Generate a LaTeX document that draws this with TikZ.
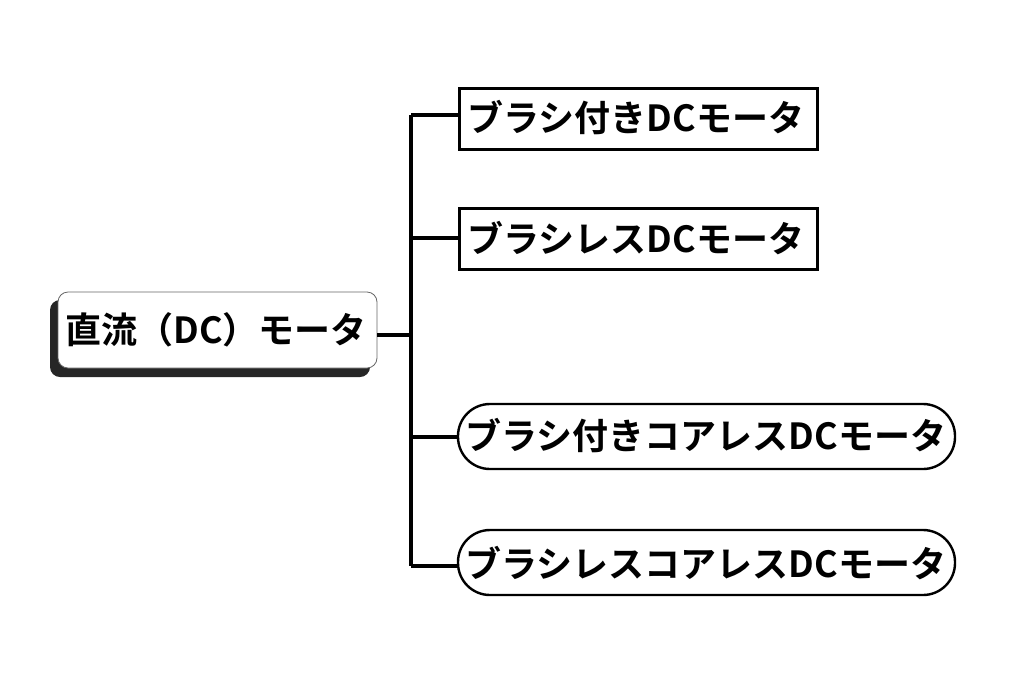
\documentclass[tikz,border=0pt]{standalone}
\usepackage{fontspec}
\newfontfamily\jp{Noto Sans CJK JP Bold}
\begin{document}
\begin{tikzpicture}[x=1pt,y=-1pt,
  lbl/.style={font=\jp\fontsize{36}{38}\selectfont, inner sep=0pt, text=black},
  sqbox/.style={draw=black, line width=3pt, fill=white},
  pill/.style={draw=black, line width=2.4pt, fill=white, rounded corners=32pt},
  link/.style={draw=black, line width=3.4pt}]
\useasboundingbox (0,0) rectangle (1024,683);
% root shadow and box
\fill[black!85, rounded corners=10pt] (50,300) rectangle (370,377);
\draw[fill=white, draw=black!60, line width=0.8pt, rounded corners=10pt] (58,292) rectangle (377,368);
\node[lbl] (root) at (216,330) {直流（DC）モータ};
\coordinate (rootR) at (377,335);
% child boxes
\draw[sqbox] (459,88) rectangle (817,149);
\node[lbl] (c1) at (636,118) {ブラシ付きDCモータ};
\draw[sqbox] (459,208) rectangle (817,269);
\node[lbl] (c2) at (636,238) {ブラシレスDCモータ};
\draw[pill] (458,404) rectangle (955,469);
\node[lbl] (c3) at (706,436) {ブラシ付きコアレスDCモータ};
\draw[pill] (458,530) rectangle (955,595);
\node[lbl] (c4) at (706,563) {ブラシレスコアレスDCモータ};
\coordinate (l1) at (459,115);
\coordinate (l2) at (459,238);
\coordinate (l3) at (458,437);
\coordinate (l4) at (458,566);
\coordinate (t1) at (411,115);
\coordinate (t2) at (411,238);
\coordinate (tr) at (411,335);
\coordinate (t3) at (411,437);
\coordinate (t4) at (411,566);
\draw[link] (t1) -- (t4);
\draw[link] (rootR) -- (tr);
\draw[link] (t1) -- (l1);
\draw[link] (t2) -- (l2);
\draw[link] (t3) -- (l3);
\draw[link] (t4) -- (l4);
\end{tikzpicture}
\end{document}
